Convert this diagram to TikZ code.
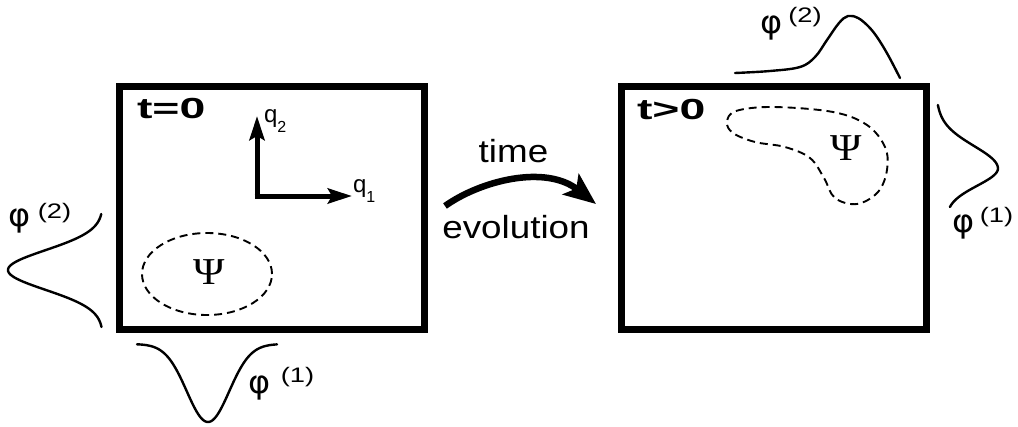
\documentclass[tikz,border=0pt]{standalone}
\usepackage{fontspec}
\usepackage{graphicx}
\setmainfont{Liberation Sans}
\newfontfamily\phifont{DejaVu Sans}
\newfontfamily\psifont{Liberation Serif}
\usetikzlibrary{arrows.meta}
\newcommand{\hsx}[2]{\scalebox{#1}[1]{#2}}
\newcommand{\phig}{{\fontsize{32}{32}\phifont\hsx{1.05}{φ}}}
\newcommand{\psig}{{\fontsize{38}{38}\psifont\hsx{1.12}{Ψ}}}
\newcommand{\supnum}[1]{{\fontsize{21}{21}\selectfont\hsx{1.3}{(#1)}}}
\begin{document}
\begin{tikzpicture}[x=1pt,y=-1pt,
  frame/.style={line width=7pt, line join=miter},
  curve/.style={line width=2.4pt, line cap=round},
  dashline/.style={line width=1.9pt, dash pattern=on 8pt off 5pt},
  axis/.style={line width=5pt, -{Stealth[length=24pt,width=15pt,inset=4pt]}},
  evo/.style={line width=6.5pt, -{Stealth[length=32pt,width=26pt,inset=7pt]}},
  lab/.style={inner sep=0pt, outer sep=0pt}]
\useasboundingbox (0,0) rectangle (1018,426);

% frames
\draw[frame] (119,86) rectangle (424,329);
\draw[frame] (621,86) rectangle (926,329);

% labels t=0, t>0
\node[lab, anchor=base west] (t0) at (137,118.5) {\fontsize{29}{29}\selectfont\bfseries\hsx{1.6}{t=0}};
\node[lab, anchor=base west] (tg) at (637,119.5) {\fontsize{29}{29}\selectfont\bfseries\hsx{1.6}{t>0}};

% axes
\coordinate (o) at (257,196);
\coordinate (q2tip) at (257,116);
\coordinate (q1tip) at (352,196);
\draw[axis] (o) -- (q2tip);
\draw[axis] ([xshift=-2.5pt]o) -- (q1tip);
\node[lab, anchor=base west] (q2) at (264,122) {\fontsize{24}{24}\selectfont q\raisebox{-10pt}{\fontsize{16}{16}\selectfont 2}};
\node[lab, anchor=base west] (q1) at (353,192.5) {\fontsize{24}{24}\selectfont q\raisebox{-10pt}{\fontsize{16}{16}\selectfont 1}};

% left wavefunction
\draw[dashline] (207,274) ellipse [x radius=65pt, y radius=41pt];
\node[lab] (psi0) at (209,272.5) {\psig};

% right wavefunction blob
\draw[dashline] plot[smooth cycle, tension=0.6] coordinates {(727,122) (736,111) (773,107) (833,112) (867,125) (885,147) (887,170) (878,192) (857,204) (835,198) (824,178) (810,158) (785,147) (755,142) (733,133)};
\node[lab] (psi1) at (846.5,148.5) {\psig};

% left phi(2) curve
\draw[curve] plot[domain=-56:57, samples=90, smooth] ({103-95*exp(-(\x/28)^2)}, {270+\x});
\node[lab] (phiL) at (20,221.5) {\phig};
\node[lab] (supL) at (54.5,213.5) {\supnum{2}};

% bottom phi(1) curve
\draw[curve] plot[domain=-71:69, samples=90, smooth] ({208+\x}, {344+78*exp(-(\x/30)^2)});
\node[lab] (phiB) at (260,388) {\phig};
\node[lab] (supB) at (297.5,377.5) {\supnum{1}};

% right phi(1) curve
\draw[curve] plot[domain=-63:39, samples=100, smooth] ({937+8*(\x+63)/102+56*exp(-(\x/(\x<0?31:25))^2)}, {168+\x});
\node[lab] (phiR) at (964,227.5) {\phig};
\node[lab] (supR) at (996.5,217.5) {\supnum{1}};

% top phi(2) curve
\draw[curve] plot[smooth, tension=0.6] coordinates {(735,73) (770,71) (800,67) (815,57) (827,40) (839,23) (848,16) (858,18) (868,26) (877,37) (888,55) (900,78)};
\node[lab] (phiT) at (771.5,28.5) {\phig};
\node[lab] (supT) at (805,17.5) {\supnum{2}};

% time evolution arrow
\coordinate (evs) at (445,206);
\coordinate (eve) at (596,204);
\draw[evo] (evs) .. controls (480,181) and (545,164) .. (eve);
\node[lab, anchor=base] (time) at (513.5,162) {\fontsize{32}{32}\selectfont\hsx{1.15}{time}};
\node[lab, anchor=base] (evol) at (516,238) {\fontsize{32}{32}\selectfont\hsx{1.15}{evolution}};
\end{tikzpicture}
\end{document}
